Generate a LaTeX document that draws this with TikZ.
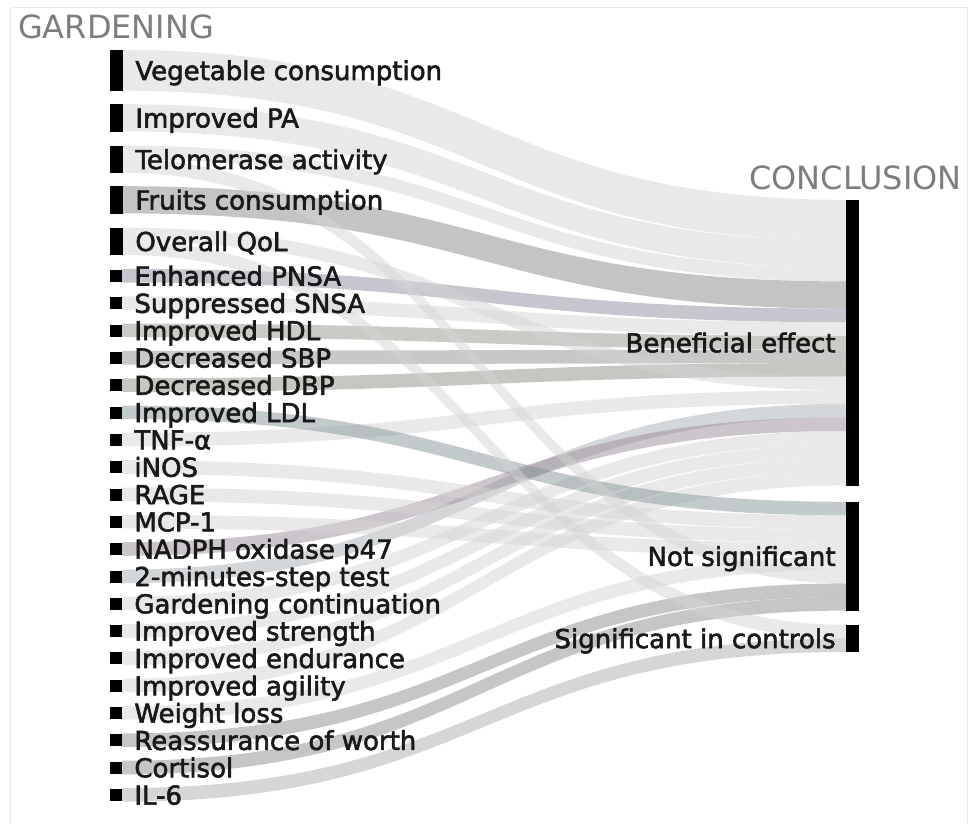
\documentclass[tikz,border=0pt]{standalone}
\usepackage{fontspec}
\setmainfont{DejaVu Sans}[BoldFont={DejaVu Sans}, BoldFeatures={FakeBold=2.2}]
\usetikzlibrary{positioning,calc}
\pgfdeclarelayer{background}
\pgfsetlayers{background,main}
\definecolor{headgray}{RGB}{125,125,125}
\definecolor{framegray}{RGB}{234,234,234}
\definecolor{bandlight}{RGB}{212,212,212}
\definecolor{bandfruit}{RGB}{137,137,137}
\definecolor{bandpurple}{RGB}{145,139,159}
\definecolor{bandplum}{RGB}{155,139,153}
\definecolor{bandsage}{RGB}{147,151,139}
\definecolor{bandmoss}{RGB}{137,145,131}
\definecolor{bandgray}{RGB}{145,145,145}
\definecolor{bandsteel}{RGB}{135,149,153}
\definecolor{bandmist}{RGB}{169,175,179}
\definecolor{banddark}{RGB}{141,141,141}
\definecolor{bandmid}{RGB}{173,173,173}
\newcommand{\un}{13.6}
\newcommand{\gband}[6]{%
    \fill[band, #6] ($(#1.north east)+(0,{#2*\un})$) .. controls +(361.5,0) and +(-361.5,0) .. ($(#4.north west)+(0,{#5*\un})$)
        -- ++(0,{#3*\un}) .. controls +(-361.5,0) and +(361.5,0) .. ($(#1.north east)+(0,{(#2+#3)*\un})$) -- cycle;}

\begin{document}
\begin{tikzpicture}[x=1pt, y=-1pt,
    gbar/.style={fill=black, inner sep=0pt, minimum width=13pt},
    lab/.style={font=\fontsize{26}{30}\selectfont\bfseries, text=black!90, text height=19pt, text depth=0pt, inner sep=0pt},
    head/.style={font=\fontsize{32}{36}\selectfont, text=headgray, text height=23.3pt, text depth=0pt, inner sep=0pt},
    band/.style={fill opacity=0.5}]
    \useasboundingbox (0,0) rectangle (972,824);
    \draw[framegray, line width=1pt] (10,824) -- (10,8) -- (967,8) -- (967,824);

    \node[head, anchor=west] (garden) at (18,27) {GARDENING};
    \node[head, anchor=east] (concl) at (962,178) {CONCLUSION};

    \node[gbar, minimum height={3*\un}] (veg) at (116.5,70.5) {};
    \node[lab, right=12pt of veg] (veg-t) {Vegetable consumption};
    \node[gbar, minimum height={2*\un}] (pa) at (116.5,118) {};
    \node[lab, right=12pt of pa] (pa-t) {Improved PA};
    \node[gbar, minimum height={2*\un}] (tel) at (116.5,159.5) {};
    \node[lab, right=12pt of tel] (tel-t) {Telomerase activity};
    \node[gbar, minimum height={2*\un}] (fruit) at (116.5,200) {};
    \node[lab, right=12pt of fruit] (fruit-t) {Fruits consumption};
    \node[gbar, minimum height={2*\un}] (qol) at (116.5,241.5) {};
    \node[lab, right=12pt of qol] (qol-t) {Overall QoL};

    \foreach \nm/\txt [count=\i from 0] in {pnsa/Enhanced PNSA, snsa/Suppressed SNSA, hdl/Improved HDL,
        sbp/Decreased SBP, dbp/Decreased DBP, ldl/Improved LDL, tnf/TNF-α, inos/iNOS, rage/RAGE, mcp/MCP-1,
        nadph/NADPH oxidase p47, steptest/2-minutes-step test, gcont/Gardening continuation,
        strength/Improved strength, endur/Improved endurance, agil/Improved agility, wloss/Weight loss,
        reass/Reassurance of worth, cort/Cortisol, ilsix/IL-6}
    {
        \node[gbar, minimum height=12, minimum width=12] (\nm) at (116,{276+27.32*\i}) {};
        \node[lab, right=12pt of \nm] (\nm-t) {\txt};
    }

    \node[gbar, minimum height={21*\un}] (ben) at (852.5,{200+10.5*\un}) {};
    \node[lab, left=10pt of ben] (ben-t) {Beneficial effect};
    \node[gbar, minimum height={8*\un}] (nsig) at (852.5,{502+4*\un}) {};
    \node[lab, left=10pt of nsig] (nsig-t) {Not significant};
    \node[gbar, minimum height={2*\un}] (sigc) at (852.5,{625+\un}) {};
    \node[lab, left=10pt of sigc] (sigc-t) {Significant in controls};

    \begin{pgfonlayer}{background}
        \gband{veg}{0}{3}{ben}{0}{fill=bandlight}
        \gband{pa}{0}{2}{ben}{3}{fill=bandlight}
        \gband{tel}{0}{1}{ben}{5}{fill=bandlight}
        \gband{fruit}{0}{2}{ben}{6}{fill=bandfruit}
        \gband{pnsa}{-0.06}{1}{ben}{8}{fill=bandpurple}
        \gband{snsa}{-0.06}{1}{ben}{9}{fill=bandlight}
        \gband{hdl}{-0.06}{1}{ben}{10}{fill=bandsage}
        \gband{sbp}{-0.06}{1}{ben}{11}{fill=bandgray}
        \gband{dbp}{-0.06}{1}{ben}{12}{fill=bandmoss}
        \gband{qol}{0}{1}{ben}{13}{fill=bandlight}
        \gband{tnf}{-0.06}{1}{ben}{14}{fill=bandlight}
        \gband{steptest}{-0.06}{1}{ben}{15}{fill=bandmist}
        \gband{nadph}{-0.06}{1}{ben}{16}{fill=bandplum}
        \gband{gcont}{-0.06}{1}{ben}{17}{fill=bandlight}
        \gband{strength}{-0.06}{1}{ben}{18}{fill=bandlight}
        \gband{endur}{-0.06}{1}{ben}{19}{fill=bandlight}
        \gband{agil}{-0.06}{1}{ben}{20}{fill=bandlight}
        \gband{ldl}{-0.06}{1}{nsig}{0}{fill=bandsteel}
        \gband{inos}{-0.06}{1}{nsig}{1}{fill=bandlight}
        \gband{rage}{-0.06}{1}{nsig}{2}{fill=bandlight}
        \gband{mcp}{-0.06}{1}{nsig}{3}{fill=bandlight}
        \gband{wloss}{-0.06}{1}{nsig}{4}{fill=bandlight}
        \gband{tel}{1}{1}{nsig}{5}{fill=bandlight}
        \gband{reass}{-0.06}{1}{nsig}{6}{fill=banddark}
        \gband{cort}{-0.06}{1}{nsig}{7}{fill=banddark}
        \gband{qol}{1}{1}{sigc}{0}{fill=bandlight}
        \gband{ilsix}{-0.06}{1}{sigc}{1}{fill=bandmid}
    \end{pgfonlayer}
\end{tikzpicture}
\end{document}
